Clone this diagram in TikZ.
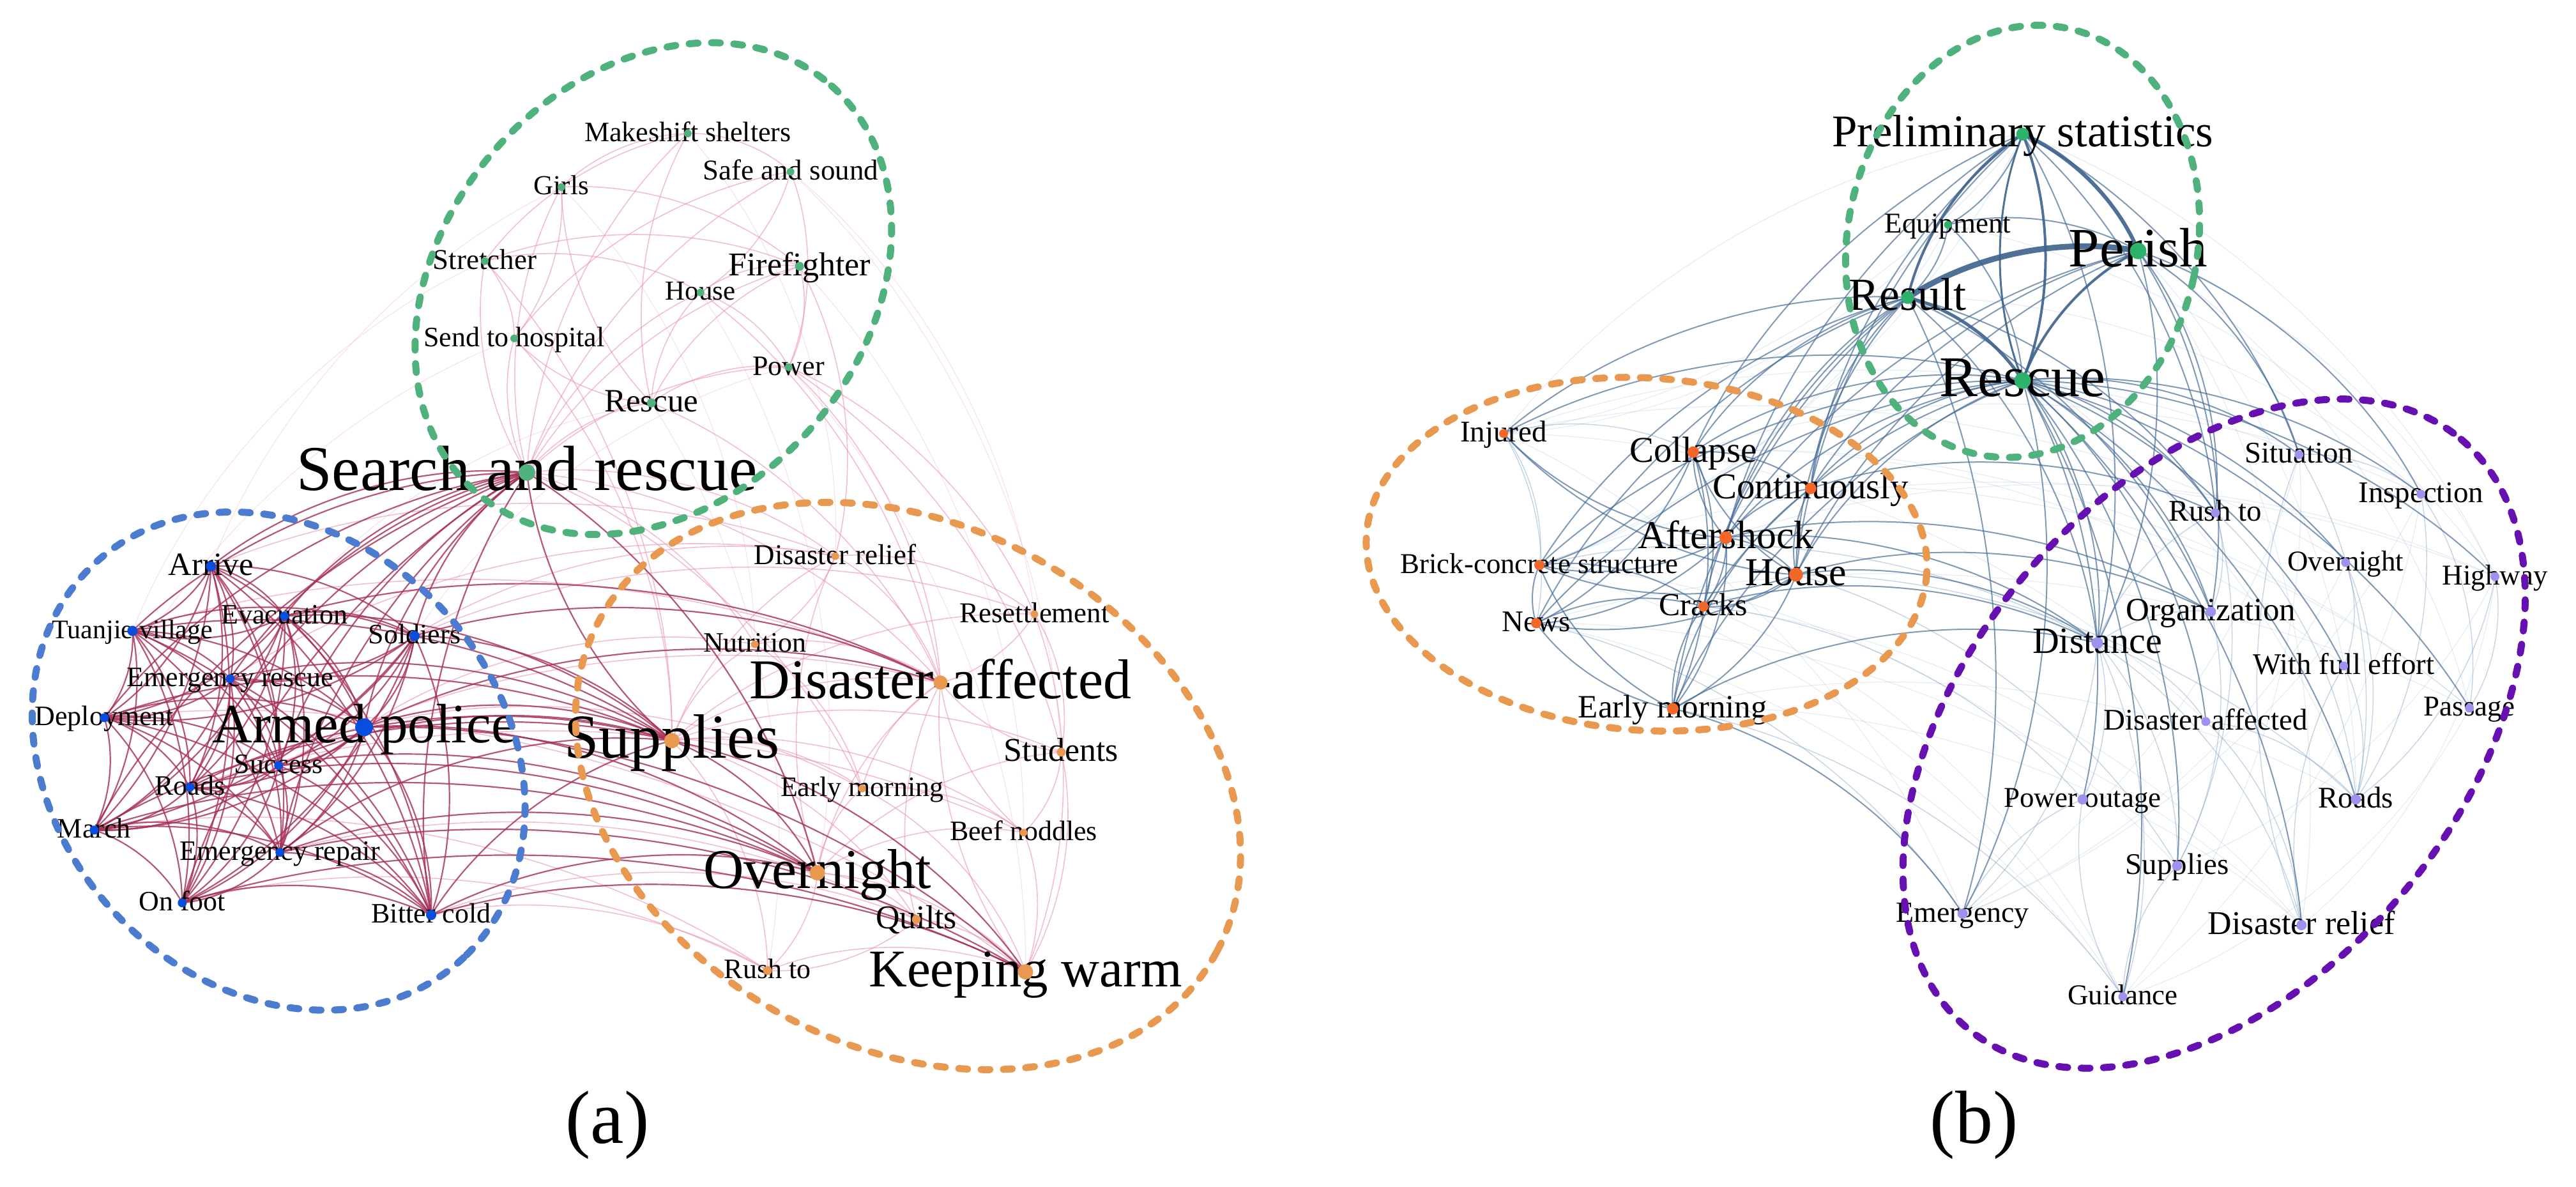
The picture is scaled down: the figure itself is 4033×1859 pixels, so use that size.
\documentclass[tikz,border=0pt]{standalone}
\usepackage{fontspec}
\setmainfont{Liberation Serif}
\usetikzlibrary{calc}
\pgfdeclarelayer{bg}
\pgfdeclarelayer{edges}
\pgfdeclarelayer{front}
\pgfsetlayers{bg,edges,main,front}
\definecolor{cBlueDot}{RGB}{8,78,222}
\definecolor{cBlueRing}{RGB}{76,124,208}
\definecolor{cGreen}{RGB}{79,178,124}
\definecolor{cGreenB}{RGB}{45,178,107}
\definecolor{cOrange}{RGB}{233,152,80}
\definecolor{cOrangeB}{RGB}{243,104,40}
\definecolor{cPurple}{RGB}{102,16,178}
\definecolor{cLav}{RGB}{158,146,238}
\definecolor{cCrimson}{RGB}{166,46,86}
\definecolor{cPink}{RGB}{234,140,170}
\definecolor{cSteel}{RGB}{74,110,152}
\definecolor{cSteelD}{RGB}{62,98,140}
\definecolor{cSteelL}{RGB}{140,170,204}
\newcommand{\kwnode}[7]{%
  \begin{pgfonlayer}{front}
    \node[dot,fill=#4,minimum size=#5pt] (#1) at (#2,#3) {};
  \end{pgfonlayer}
  \node[lbl,font=\fontsize{#6}{#6}\selectfont] (#1t) at (#2,{#3+0.28*#6}) {#7};}
\newcommand{\kwe}[3]{\draw[#1] (#2.center) .. controls ($(#2.center)!0.33!22:(#3.center)$) and ($(#3.center)!0.33!-22:(#2.center)$) .. (#3.center);}
\begin{document}
\begin{tikzpicture}[x=1pt,y=-1pt,scale=0.05,transform shape,
  dot/.style={circle,inner sep=0pt,draw=none},
  lbl/.style={anchor=base,inner sep=0pt,text=black},
  ring/.style={line width=0.55pt,dash pattern=on 0.7pt off 1.05pt,line cap=round},
  ea/.style={draw=cCrimson,line width=0.11pt,draw opacity=.8},
  eal/.style={draw=cPink,line width=0.08pt,draw opacity=.55},
  eaf/.style={draw=cPink,line width=0.06pt,draw opacity=.25},
  ebt/.style={draw=cSteelD,draw opacity=.9},
  ebm/.style={draw=cSteel,line width=0.1pt,draw opacity=.7},
  ebl/.style={draw=cSteelL,line width=0.07pt,draw opacity=.5},
  ebf/.style={draw=cSteelL,line width=0.06pt,draw opacity=.22}]
\begin{pgfonlayer}{bg}
\path[use as bounding box,fill=white] (0,0) rectangle (4033,1859);
\end{pgfonlayer}

% ---------------- panel (a) nodes ----------------
\kwnode{gMS}{1075}{209}{cGreen}{12}{44}{Makeshift shelters}
\kwnode{gSS}{1236}{269}{cGreen}{12}{45}{Safe and sound}
\kwnode{gGi}{877}{293}{cGreen}{12}{43}{Girls}
\kwnode{gSt}{757}{409}{cGreen}{12}{45}{Stretcher}
\kwnode{gFF}{1250}{417}{cGreen}{14}{52}{Firefighter}
\kwnode{gHo}{1095}{458}{cGreen}{12}{43}{House}
\kwnode{gSH}{803}{530}{cGreen}{12}{44}{Send to hospital}
\kwnode{gPo}{1233}{575}{cGreen}{12}{44}{Power}
\kwnode{gRe}{1018}{631}{cGreen}{14}{51}{Rescue}
\kwnode{gSR}{823}{740}{cGreen}{26}{100}{Search and rescue}

\kwnode{bAr}{328}{887}{cBlueDot}{16}{51}{Arrive}
\kwnode{bEv}{443}{965}{cBlueDot}{14}{44}{Evacuation}
\kwnode{bTV}{205}{988}{cBlueDot}{16}{42}{Tuanjie village}
\kwnode{bSo}{647}{996}{cBlueDot}{16}{44}{Soldiers}
\kwnode{bER}{358}{1063}{cBlueDot}{14}{44}{Emergency rescue}
\kwnode{bDe}{161}{1124}{cBlueDot}{14}{44}{Deployment}
\kwnode{bAP}{568}{1139}{cBlueDot}{28}{87}{Armed police}
\kwnode{bSu}{434}{1199}{cBlueDot}{14}{44}{Success}
\kwnode{bRo}{295}{1233}{cBlueDot}{14}{44}{Roads}
\kwnode{bMa}{145}{1300}{cBlueDot}{14}{44}{March}
\kwnode{bEP}{436}{1335}{cBlueDot}{14}{44}{Emergency repair}
\kwnode{bOF}{283}{1414}{cBlueDot}{14}{44}{On foot}
\kwnode{bBC}{673}{1433}{cBlueDot}{16}{44}{Bitter cold}

\kwnode{oDR}{1306}{871}{cOrange}{12}{45}{Disaster relief}
\kwnode{oRe}{1618}{962}{cOrange}{12}{45}{Resettlement}
\kwnode{oNu}{1180}{1009}{cOrange}{12}{44}{Nutrition}
\kwnode{oDA}{1471}{1069}{cOrange}{22}{88}{Disaster-affected}
\kwnode{oSu}{1050}{1160}{cOrange}{24}{98}{Supplies}
\kwnode{oSt}{1660}{1178}{cOrange}{14}{52}{Students}
\kwnode{oEM}{1348}{1235}{cOrange}{12}{44}{Early morning}
\kwnode{oBN}{1601}{1304}{cOrange}{12}{44}{Beef noddles}
\kwnode{oOv}{1278}{1367}{cOrange}{24}{88}{Overnight}
\kwnode{oQu}{1433}{1440}{cOrange}{14}{52}{Quilts}
\kwnode{oRT}{1200}{1520}{cOrange}{14}{44}{Rush to}
\kwnode{oKW}{1604}{1522}{cOrange}{24}{83}{Keeping warm}

% ---------------- panel (b) nodes ----------------
\kwnode{pPS}{3166}{210}{cGreenB}{20}{71}{Preliminary statistics}
\kwnode{pEq}{3049}{352}{cGreenB}{12}{45}{Equipment}
\kwnode{pPe}{3347}{393}{cGreenB}{26}{87}{Perish}
\kwnode{pRs}{2986}{466}{cGreenB}{20}{72}{Result}
\kwnode{pRc}{3166}{596}{cGreenB}{26}{90}{Rescue}

\kwnode{qIn}{2353}{679}{cOrangeB}{14}{47}{Injured}
\kwnode{qCo}{2650}{708}{cOrangeB}{18}{57}{Collapse}
\kwnode{qCn}{2834}{765}{cOrangeB}{18}{57}{Continuously}
\kwnode{qAf}{2701}{842}{cOrangeB}{20}{62}{Aftershock}
\kwnode{qBC}{2409}{885}{cOrangeB}{16}{45}{Brick-concrete structure}
\kwnode{qHo}{2811}{900}{cOrangeB}{22}{62}{House}
\kwnode{qCr}{2666}{950}{cOrangeB}{16}{50}{Cracks}
\kwnode{qNe}{2404}{976}{cOrangeB}{16}{47}{News}
\kwnode{qEM}{2618}{1110}{cOrangeB}{18}{51}{Early morning}

\kwnode{vSi}{3599}{712}{cLav}{14}{47}{Situation}
\kwnode{vIn}{3790}{774}{cLav}{14}{47}{Inspection}
\kwnode{vRT}{3468}{803}{cLav}{14}{47}{Rush to}
\kwnode{vOv}{3672}{881}{cLav}{14}{45}{Overnight}
\kwnode{vHi}{3906}{903}{cLav}{14}{45}{Highway}
\kwnode{vOr}{3461}{958}{cLav}{16}{51}{Organization}
\kwnode{vDi}{3283}{1007}{cLav}{18}{58}{Distance}
\kwnode{vWF}{3669}{1043}{cLav}{14}{47}{With full effort}
\kwnode{vPa}{3866}{1109}{cLav}{14}{45}{Passage}
\kwnode{vDA}{3453}{1130}{cLav}{14}{47}{Disaster-affected}
\kwnode{vPO}{3260}{1252}{cLav}{16}{45}{Power outage}
\kwnode{vRo}{3688}{1252}{cLav}{16}{47}{Roads}
\kwnode{vSu}{3408}{1356}{cLav}{16}{47}{Supplies}
\kwnode{vEm}{3072}{1431}{cLav}{16}{46}{Emergency}
\kwnode{vDR}{3603}{1449}{cLav}{16}{52}{Disaster relief}
\kwnode{vGu}{3323}{1561}{cLav}{14}{45}{Guidance}

% captions
\node[font=\fontsize{118}{118}\selectfont,inner sep=0pt] (capA) at (949,1762) {(a)};
\node[font=\fontsize{118}{118}\selectfont,inner sep=0pt] (capB) at (3090,1762) {(b)};

% ---------------- edges ----------------
\begin{pgfonlayer}{edges}
\foreach \u/\v in {gSR/gMS,gSR/gSS,gSR/gGi,gSR/gSt,gSR/gFF,gSR/gHo,gSR/gSH,gSR/gPo,gSR/gRe,
  gRe/gHo,gRe/gSH,gRe/gPo,gRe/gFF,gRe/gGi,gRe/gMS,gHo/gFF,gSS/gHo,gSt/gHo,gSt/gFF,gGi/gSH,
  gSS/gPo,gMS/gSS,gGi/gMS,gSt/gSH,gSH/gSS,gFF/gPo,gGi/gFF,gSt/gMS,gHo/gPo}
  {\kwe{eal}{\u}{\v}}
\foreach \v in {oDR,oRe,oNu,oDA,oSt,oEM,oBN,oQu,oRT}
  {\kwe{eal}{oSu}{\v}}
\foreach \v in {oDR,oRe,oNu,oSt,oEM,oBN,oOv,oQu,oKW}
  {\kwe{eal}{\v}{oDA}}
\foreach \v in {oEM,oQu,oRT,oKW,oBN,oSt,oDR}
  {\kwe{eal}{oOv}{\v}}
\foreach \v in {oQu,oRT,oBN,oSt,oEM,oRe}
  {\kwe{eal}{\v}{oKW}}
\foreach \u/\v in {oDR/oRe,oDR/oNu,oNu/oEM,oRe/oSt,oSt/oBN,oEM/oBN,oQu/oRT,
  gSR/oDR,gSR/oNu,gSR/oDA,gSR/oEM,gRe/oDA,gPo/oDA,gPo/oSt,gPo/oRe,gFF/oDR,gHo/oDA,
  gSH/oSu,gSt/oSu,bAP/oNu,bSo/oDR,bAP/oEM,bBC/oQu,bBC/oRT,bSo/oRe,bAr/oDR,bTV/oDA,
  bMa/oRT,bOF/oRT,bEP/oQu,bRo/oBN,bDe/oKW,bSu/oDA,bER/oDR}
  {\kwe{eal}{\u}{\v}}
\foreach \u/\v in {gPo/oKW,gFF/oBN,gSS/oRe,gMS/oDR,gGi/oNu,gSS/oSt,gRe/oRT,gHo/oOv,
  bAr/gGi,bTV/gSt,bDe/gSH,bSo/gPo,bEv/gRe}
  {\kwe{eaf}{\u}{\v}}
\foreach \u [count=\i] in {bAr,bEv,bTV,bSo,bER,bDe,bAP,bSu,bRo,bMa,bEP,bOF,bBC}{
  \foreach \v [count=\j] in {bAr,bEv,bTV,bSo,bER,bDe,bAP,bSu,bRo,bMa,bEP,bOF,bBC}{
    \ifnum\j>\i \kwe{ea}{\u}{\v}\fi}}
\foreach \u in {bAr,bEv,bTV,bSo,bER,bDe,bAP,bSu,bRo,bMa,bEP,bOF,bBC}
  {\kwe{ea}{\u}{gSR}}
\foreach \u in {bAP,bSo,bEv,bER,bSu,bRo,bBC,bMa,bEP,bDe,bTV}
  {\kwe{ea}{\u}{oSu}}
\foreach \u in {bAP,bBC,bEP,bSu,bRo,bMa}
  {\kwe{ea}{\u}{oOv}}
\foreach \u in {bAP,bBC,bOF,bEP}
  {\kwe{ea}{\u}{oKW}}
\foreach \u in {bAP,bSo,bEv}
  {\kwe{ea}{\u}{oDA}}
\kwe{ea}{oSu}{gSR}
\kwe{ea}{gSR}{oOv}
\kwe{ea}{oSu}{oOv}
\kwe{ea}{oSu}{oKW}

\foreach \u/\v in {qIn/vSi,qIn/pPS,qCo/vIn,qBC/vHi,qNe/vPa,qEM/vDR,pPS/vHi,pPe/vPa,pPe/vHi,
  pRs/vIn,pRs/vRo,qIn/vEm,qNe/vGu,qCo/vWF,pPS/qIn,pPS/qBC,pPe/vRo,pPe/vDR,vSi/vEm,vIn/vGu,
  vHi/vSu,qBC/vSu,qEM/vRo,qCr/vDR,qIn/vDA,qCo/vPa,qNe/vDR,qBC/vGu,qIn/vOv,pEq/vHi,
  pEq/qIn,pEq/qBC,vSi/vGu,vOv/vEm,vHi/vDR,vPa/vGu,vIn/vEm,qCn/vPa,qAf/vHi,qCr/vGu}
  {\kwe{ebf}{\u}{\v}}
\foreach \u/\v in {vDi/vEm,vDi/vPO,vDi/vSu,vDi/vOr,vDi/vRT,vDi/vDA,vDi/vGu,vDi/vDR,
  vRT/vOr,vRT/vSu,vRT/vRo,vOr/vSu,vSi/vRo,vOv/vRo,vWF/vRo,vIn/vPa,vHi/vPa,vDR/vSi,
  vDR/vWF,vGu/vPO,vGu/vSu,vEm/vPO,vDA/vDR,vDA/vRo,vOv/vWF,vSi/vIn,vHi/vRo,vIn/vRo,
  qHo/vRo,qCr/vPO,qNe/vEm,qBC/vDi,qEM/vGu,qHo/vSu,qIn/qBC,qIn/qNe,qIn/qCo}
  {\kwe{ebl}{\u}{\v}}
\foreach \v in {vRT,vOr,vDi,vSi,vOv,vWF,vRo,vDR,vSu,vDA,vEm,vPO,vIn,vHi,vPa,vGu}
  {\kwe{ebm}{pRc}{\v}}
\foreach \v in {qCn,qHo,qAf,qCo,qCr,qEM,qNe,qBC,qIn}
  {\kwe{ebm}{\v}{pRc}}
\foreach \v in {qCo,qCn,qAf,qHo,qCr,qEM,qNe,qBC,qIn}
  {\kwe{ebm}{\v}{pRs}}
\foreach \v in {vDi,vOr,vRT,vEm}
  {\kwe{ebm}{pRs}{\v}}
\foreach \v in {qCo,qAf,qCn,qHo}
  {\kwe{ebm}{\v}{pPS}}
\foreach \v in {vSi,vDi,vRT}
  {\kwe{ebm}{pPS}{\v}}
\foreach \v in {qHo,qCn,qAf}
  {\kwe{ebm}{\v}{pPe}}
\foreach \v in {vRT,vDi,vOr,vSi,vIn}
  {\kwe{ebm}{pPe}{\v}}
\foreach \u/\v in {pEq/pRs,pEq/pRc,pEq/pPe,pPS/pEq,
  qAf/qIn,qAf/qCo,qAf/qCn,qAf/qBC,qAf/qHo,qAf/qCr,qAf/qNe,qAf/qEM,
  qHo/qCo,qHo/qCn,qHo/qCr,qHo/qNe,qHo/qEM,qHo/qBC,qHo/qIn,
  qCo/qCn,qCo/qCr,qCo/qEM,qCo/qNe,qCo/qBC,
  qEM/qCr,qEM/qNe,qEM/qBC,qEM/qCn,qNe/qBC,qNe/qCr,qBC/qCr,
  qHo/vDi,qHo/vOr,qEM/vEm,qAf/vDi,qCn/vRT,qCr/vDi,qEM/vDi,qAf/vOr}
  {\kwe{ebm}{\u}{\v}}
\kwe{ebt,line width=0.45pt}{pRs}{pPe}
\kwe{ebt,line width=0.3pt}{pPS}{pPe}
\kwe{ebt,line width=0.2pt}{pPS}{pRc}
\kwe{ebt,line width=0.15pt}{pRc}{pPS}
\kwe{ebt,line width=0.2pt}{pRs}{pPS}
\kwe{ebt,line width=0.25pt}{pRs}{pRc}
\kwe{ebt,line width=0.2pt}{pRc}{pPe}
\end{pgfonlayer}

\begin{pgfonlayer}{front}
\draw[ring,draw=cGreen,rotate around={48.7:(1021,452)}] (1021,452) ellipse [x radius=423,y radius=330];
\draw[ring,draw=cBlueRing,rotate around={-46.6:(434,1192)}] (434,1192) ellipse [x radius=423,y radius=350];
\draw[ring,draw=cOrange,rotate around={-28.3:(1420,1231)}] (1420,1231) ellipse [x radius=549,y radius=409];
\draw[ring,draw=cGreen,rotate around={-12:(3166,378)}] (3166,378) ellipse [x radius=274,y radius=341];
\draw[ring,draw=cOrange,rotate around={-4:(2577,868)}] (2577,868) ellipse [x radius=440,y radius=276];
\draw[ring,draw=cPurple,rotate around={50:(3466,1149)}] (3466,1149) ellipse [x radius=602,y radius=387];
\end{pgfonlayer}
\end{tikzpicture}
\end{document}
